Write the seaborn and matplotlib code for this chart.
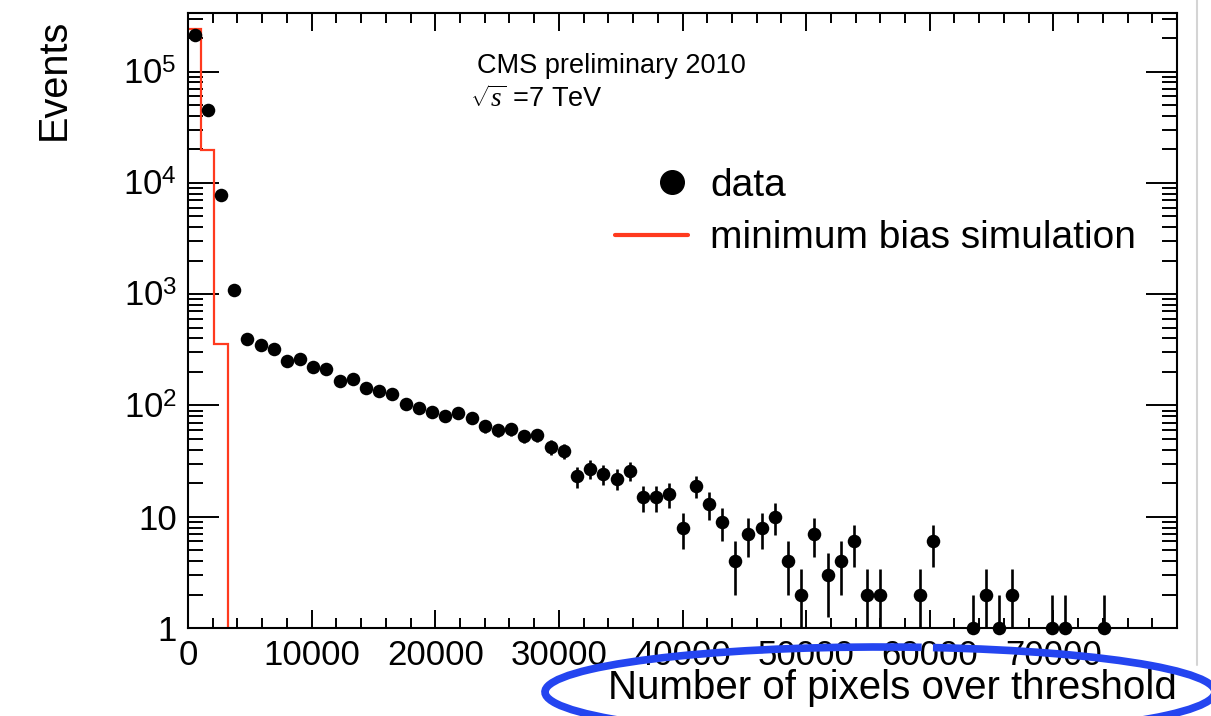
import numpy as np
import pandas as pd
import matplotlib
matplotlib.use("Agg")
import matplotlib.pyplot as plt
import seaborn as sns
from matplotlib.lines import Line2D
from matplotlib.patches import Arc
from matplotlib.transforms import IdentityTransform
from matplotlib.legend_handler import HandlerLine2D
from matplotlib.ticker import FixedLocator, MultipleLocator, LogLocator, NullFormatter

# Histogram binning: 75 equal bins over the pixel-count range
n_bins = 75
x_max = 80000

# Events per bin (data); empty bins carry 0
data_counts = [
    213000, 45500, 7800, 1090, 399, 352, 324, 251, 264, 223,
    211, 166, 174, 144, 135, 127, 104, 95, 88, 80,
    85, 77, 65, 60, 61, 53, 54, 42, 39, 23,
    27, 24, 22, 26, 15, 15, 16, 8, 19, 13,
    9, 4, 7, 8, 10, 4, 2, 7, 3, 4,
    6, 2, 2, 0, 0, 2, 6, 0, 0, 1,
    2, 1, 2, 0, 0, 1, 1, 0, 0, 1,
    0, 0, 0, 0, 0,
]

# Minimum-bias simulation, normalised to data (only the first bins are filled)
sim_counts = [241000, 19700, 355]

x_tick_values = [0, 10000, 20000, 30000, 40000, 50000, 60000, 70000]
x_tick_labels = ["0", "10000", "20000", "30000", "40000", "50000", "60000", "70000"]
y_tick_values = [1, 10, 1e2, 1e3, 1e4, 1e5]
y_tick_labels = ["1", "10", "10$^{2}$", "10$^{3}$", "10$^{4}$", "10$^{5}$"]
y_limits = (1, 3.37e5)

legend_labels = ["data", "minimum bias simulation"]
RED = "#ff3a1e"

sns.set_theme(style="ticks")
plt.rcParams["font.family"] = ["Liberation Sans", "DejaVu Sans"]
plt.rcParams["mathtext.fontset"] = "custom"
plt.rcParams["mathtext.rm"] = "Liberation Sans"
plt.rcParams["mathtext.sf"] = "Liberation Sans"
plt.rcParams["mathtext.it"] = "Liberation Serif:italic"
plt.rcParams["text.color"] = "black"
plt.rcParams["axes.labelcolor"] = "black"
plt.rcParams["xtick.color"] = "black"
plt.rcParams["ytick.color"] = "black"

W, H = 1211, 716
fig = plt.figure(figsize=(W / 100, H / 100), dpi=100)
fig.patch.set_facecolor("white")
ax = fig.add_axes([188 / W, 88 / H, 989 / W, 615 / H])
ax.set_facecolor("white")

edges = np.linspace(0, x_max, n_bins + 1)
centers = 0.5 * (edges[:-1] + edges[1:])
counts = np.array(data_counts, dtype=float)
sim_full = np.zeros(n_bins)
sim_full[: len(sim_counts)] = sim_counts

ax.set_yscale("log", nonpositive="clip")

# simulation as an outline histogram
ax.stairs(sim_full, edges, color=RED, linewidth=1.6, zorder=2, baseline=None)

# data points with Poisson errors (empty bins are not drawn)
df = pd.DataFrame({"pixels": centers, "events": counts})
df = df[df["events"] > 0]
err = np.sqrt(df["events"].to_numpy())
ax.errorbar(df["pixels"], df["events"],
            yerr=[np.minimum(err, df["events"].to_numpy()), err], fmt="none",
            ecolor="black", elinewidth=1.9, capsize=0, zorder=3)
sns.scatterplot(data=df, x="pixels", y="events", color="black", s=95,
                linewidth=0, marker="o", ax=ax, zorder=4, clip_on=False,
                legend=False)

ax.set_xlim(0, x_max)
ax.set_ylim(*y_limits)

ax.xaxis.set_major_locator(FixedLocator(x_tick_values))
ax.set_xticklabels(x_tick_labels)
ax.xaxis.set_minor_locator(MultipleLocator(2000))
ax.yaxis.set_major_locator(FixedLocator(y_tick_values))
ax.set_yticklabels(y_tick_labels)
ax.yaxis.set_minor_locator(LogLocator(base=10, subs=np.arange(2, 10)))
ax.yaxis.set_minor_formatter(NullFormatter())

ax.tick_params(which="both", direction="in", top=True, right=True,
               width=1.4, color="black", labelsize=25)
ax.tick_params(axis="x", which="major", length=13, pad=8)
ax.tick_params(axis="x", which="minor", length=7)
ax.tick_params(axis="y", which="major", length=22, pad=8)
ax.tick_params(axis="y", which="minor", length=11)
for s in ax.spines.values():
    s.set_linewidth(1.5)
    s.set_color("black")
ax.grid(False)

ax.set_xlabel("Number of pixels over threshold", fontsize=29, loc="right")
ax.xaxis.set_label_coords(1.0, -0.067)
ax.set_ylabel("Events", fontsize=28.5, loc="top")
ax.yaxis.set_label_coords(-0.117, 0.99)

fig.text(477 / W, 1 - 73 / H, "CMS preliminary 2010", fontsize=19.5,
         ha="left", va="baseline")
fig.text(470 / W, 1 - 107 / H, r"$\sqrt{s}\,=\!\mathit{7}$ TeV", fontsize=19.5,
         ha="left", va="baseline")


class MarkerRightHandler(HandlerLine2D):
    """Single legend marker placed towards the right end of the handle box."""
    def get_xdata(self, legend, xdescent, ydescent, width, height, fontsize):
        pos = 0.78 * width - xdescent
        return np.array([pos, pos]), np.array([pos])


h_data = Line2D([], [], marker="o", ls="none", color="black", markersize=17)
h_sim = Line2D([], [], color=RED, lw=3)
ax.legend([h_data, h_sim], legend_labels, loc="upper left",
          bbox_to_anchor=(615 / W, 1 - 168 / H), bbox_transform=fig.transFigure,
          frameon=False, fontsize=28, handlelength=1.88, handletextpad=0.57,
          labelspacing=0.42, borderpad=0, borderaxespad=0,
          handler_map={h_data: MarkerRightHandler(numpoints=1)})

# hand-drawn highlight around the axis title, plus the page edge line
fig.add_artist(Arc((880, H - 692), 670, 90, theta1=47, theta2=400,
                   transform=IdentityTransform(), color="#2445f0", lw=5.5,
                   zorder=10))
fig.add_artist(Line2D([1197, 1197], [H - 665, H], transform=IdentityTransform(),
                      color="#d4d4d4", lw=1.5, zorder=1))

fig.savefig("out.png", dpi=100)
